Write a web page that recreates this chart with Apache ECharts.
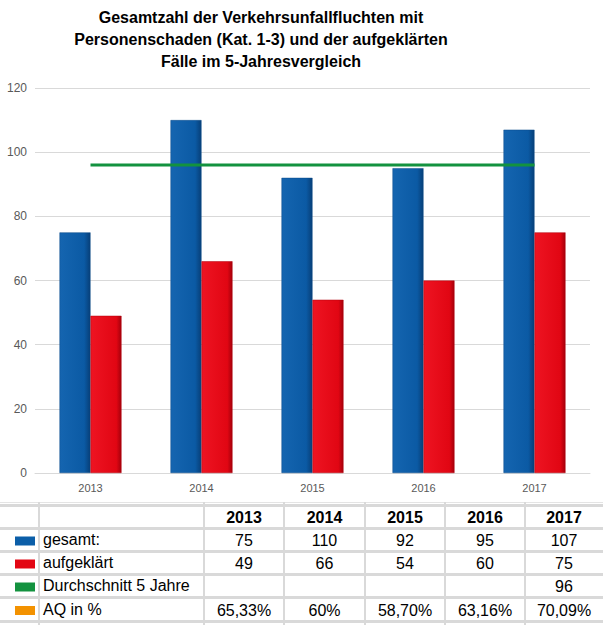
<!DOCTYPE html>
<html>
<head>
<meta charset="utf-8">
<script src="https://cdn.jsdelivr.net/npm/echarts@6/dist/echarts.min.js"></script>
<style>
html,body{margin:0;padding:0;background:#fff;}
#chart{width:603px;height:625px;}
</style>
</head>
<body>
<div id="chart"></div>
<script>
// ---- data ----
const titleText = 'Gesamtzahl der Verkehrsunfallfluchten mit\nPersonenschaden (Kat. 1-3) und der aufgeklärten\nFälle im 5-Jahresvergleich';
const categories = ['2013', '2014', '2015', '2016', '2017'];
const gesamt = [75, 110, 92, 95, 107];
const aufgeklaert = [49, 66, 54, 60, 75];
const durchschnitt = [96, 96, 96, 96, 96];
const durchschnittTable = ['', '', '', '', '96'];
const aqLabels = ['65,33%', '60%', '58,70%', '63,16%', '70,09%'];
const rowNames = ['gesamt:', 'aufgeklärt', 'Durchschnitt 5 Jahre', 'AQ in %'];
const rowColors = ['#0b5ea8', '#e30613', '#13923f', '#f39200'];

// ---- chart ----
const chart = echarts.init(document.getElementById('chart'), null, {renderer: 'svg'});

const blueGrad = new echarts.graphic.LinearGradient(0, 0, 1, 0, [
  {offset: 0, color: '#1565b0'}, {offset: 0.8, color: '#0b5aa4'}, {offset: 1, color: '#073f78'}
]);
const redGrad = new echarts.graphic.LinearGradient(0, 0, 1, 0, [
  {offset: 0, color: '#ee1422'}, {offset: 0.84, color: '#e10613'}, {offset: 1, color: '#a5000b'}
]);

// table layout
const colX = [0, 39, 204, 284, 365, 445, 525, 603];
const rowY = [505, 528, 551, 574, 597, 621];
const graphics = [];
const lineColor = '#d9d9d9';
// title
graphics.push({type: 'text', x: 261, y: 6,
  style: {text: titleText, fill: '#000', font: 'bold 16px "Liberation Sans", Arial', lineHeight: 22,
    align: 'center', verticalAlign: 'top'}});
// horizontal lines
graphics.push({type: 'rect', shape: {x: 0, y: 502, width: 603, height: 1}, style: {fill: '#e4e4e4'}, silent: true});
rowY.forEach(y => {
  graphics.push({type: 'rect', shape: {x: 0, y: y - 1, width: 603, height: 3}, style: {fill: lineColor}, silent: true});
});
// vertical lines
colX.slice(1, 7).forEach(x => {
  graphics.push({type: 'rect', shape: {x: x - 1, y: 502, width: 2, height: 123}, style: {fill: lineColor}, silent: true});
});
// header
categories.forEach((c, i) => {
  const cx = (colX[i + 2] + colX[i + 3]) / 2;
  graphics.push({type: 'text', x: cx, y: (rowY[0] + rowY[1]) / 2 + 1,
    style: {text: c, fill: '#000', font: 'bold 16px "Liberation Sans", Arial', align: 'center', verticalAlign: 'middle'}});
});
const rowsData = [
  gesamt.map(String),
  aufgeklaert.map(String),
  durchschnittTable,
  aqLabels
];
rowNames.forEach((name, r) => {
  const cy = (rowY[r + 1] + rowY[r + 2]) / 2 + 1;
  graphics.push({type: 'rect', shape: {x: 15, y: cy - 4, width: 20, height: 9}, style: {fill: rowColors[r]}});
  graphics.push({type: 'text', x: 43, y: cy - 1,
    style: {text: name, fill: '#000', font: '16px "Liberation Sans", Arial', align: 'left', verticalAlign: 'middle'}});
  rowsData[r].forEach((v, i) => {
    const cx = (colX[i + 2] + colX[i + 3]) / 2;
    graphics.push({type: 'text', x: cx, y: cy,
      style: {text: v, fill: '#000', font: '16px "Liberation Sans", Arial', align: 'center', verticalAlign: 'middle'}});
  });
});

chart.setOption({
  animation: false,
  backgroundColor: '#fff',
  grid: {left: 35, right: 13, top: 88, bottom: 152, containLabel: false},
  xAxis: {
    type: 'category',
    data: categories,
    axisLine: {show: true, lineStyle: {color: '#d9d9d9'}},
    axisTick: {show: false},
    axisLabel: {color: '#595959', fontSize: 11, fontFamily: '"Liberation Sans", Arial', margin: 9}
  },
  yAxis: {
    type: 'value',
    min: 0, max: 120, interval: 20,
    axisLine: {show: false},
    axisTick: {show: false},
    splitLine: {lineStyle: {color: '#d9d9d9'}},
    axisLabel: {color: '#595959', fontSize: 12, fontFamily: '"Liberation Sans", Arial', margin: 8}
  },
  series: [
    {name: 'gesamt:', type: 'bar', data: gesamt, barWidth: 31, barGap: '0%',
      itemStyle: {color: blueGrad, borderColor: '#0a4a88', borderWidth: 0.5}},
    {name: 'aufgeklärt', type: 'bar', data: aufgeklaert, barWidth: 31, barGap: '0%',
      itemStyle: {color: redGrad, borderColor: '#b0000c', borderWidth: 0.5}},
    {name: 'Durchschnitt 5 Jahre', type: 'line', data: durchschnitt, symbol: 'none',
      lineStyle: {color: '#13923f', width: 3}, z: 5}
  ],
  graphic: graphics
});
</script>
</body>
</html>
